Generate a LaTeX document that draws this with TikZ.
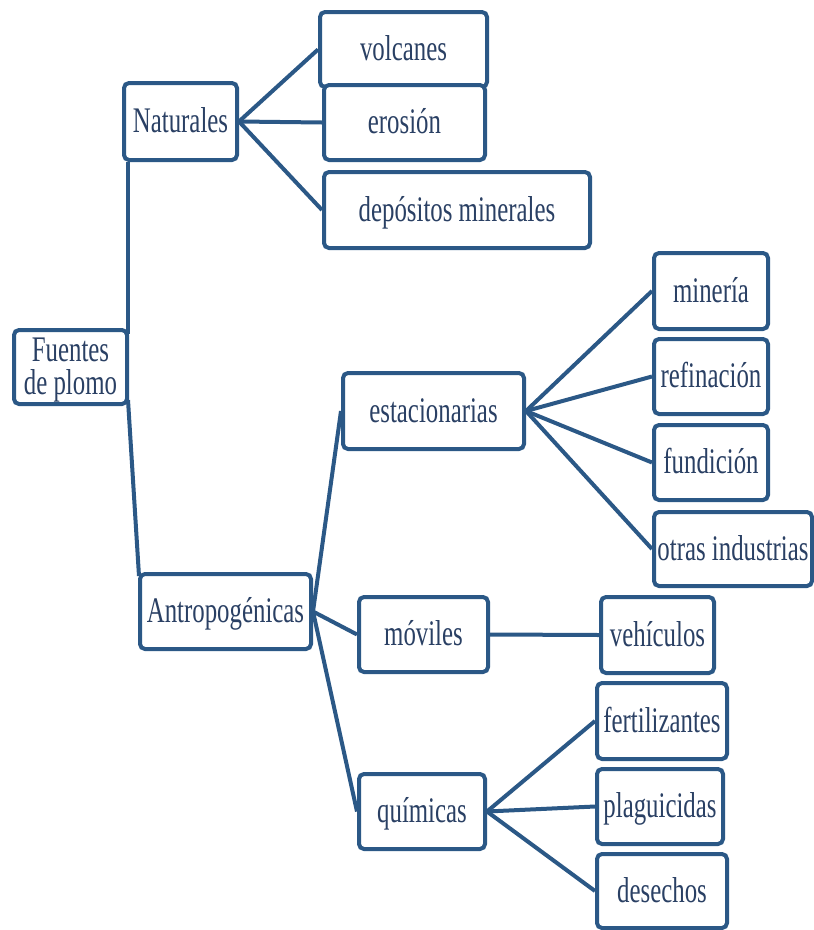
\documentclass[tikz,border=0pt]{standalone}
\usepackage{fontspec}
\setmainfont[FakeStretch=0.69]{Liberation Serif}
\definecolor{linec}{HTML}{2B5886}
\definecolor{textc}{HTML}{2A4064}
\begin{document}
\begin{tikzpicture}[x=1pt,y=-1pt,
  box/.style={draw=linec, line width=4pt, rounded corners=5pt, fill=white,
    inner sep=0pt, text=textc, text height=31pt, text depth=9pt,
    font=\fontsize{36pt}{38pt}\selectfont},
  txt/.style={inner sep=0pt, text=textc, font=\fontsize{36pt}{38pt}\selectfont},
  conn/.style={draw=linec, line width=4pt}]
\useasboundingbox (0,0) rectangle (814,930);
% boxes
\node[box, minimum width=113, minimum height=74] (fuentes) at (70.5,367) {};
\node[txt, anchor=base] (fuentesA) at (70.5,361) {Fuentes};
\node[txt, anchor=base] (fuentesB) at (70.5,394) {de plomo};
\node[box, minimum width=113, minimum height=77] (naturales) at (180.5,121.5) {Naturales};
\node[box, minimum width=167, minimum height=75] (volcanes) at (403.5,49.5) {volcanes};
\node[box, minimum width=161, minimum height=75] (erosion) at (404.5,122.5) {erosión};
\node[box, minimum width=266, minimum height=76] (depositos) at (457,210) {depósitos minerales};
\node[box, minimum width=114, minimum height=76] (mineria) at (711,291) {minería};
\node[box, minimum width=114, minimum height=75] (refinacion) at (711,376.5) {refinación};
\node[box, minimum width=114, minimum height=75] (fundicion) at (711,462.5) {fundición};
\node[box, minimum width=158, minimum height=74] (otras) at (733,549) {otras industrias};
\node[box, minimum width=181, minimum height=76] (estacionarias) at (433.5,411) {estacionarias};
\node[box, minimum width=171, minimum height=75] (antropo) at (225.5,611.5) {Antropogénicas};
\node[box, minimum width=129, minimum height=75] (moviles) at (423.5,634.5) {móviles};
\node[box, minimum width=113, minimum height=76] (vehiculos) at (657.5,635) {vehículos};
\node[box, minimum width=126, minimum height=75] (quimicas) at (422,811.5) {químicas};
\node[box, minimum width=130, minimum height=76] (fertilizantes) at (662,721) {fertilizantes};
\node[box, minimum width=126, minimum height=75] (plaguicidas) at (660,806.5) {plaguicidas};
\node[box, minimum width=130, minimum height=74] (desechos) at (662,891) {desechos};
% connectors
\coordinate (fTop) at ([xshift=-1pt,yshift=-6pt]fuentes.north east);
\coordinate (fBot) at ([xshift=-1pt,yshift=6pt]fuentes.south east);
\coordinate (aTop) at ([xshift=1pt,yshift=-4pt]antropo.north west);
\draw[conn] (fTop) -- (fTop |- naturales.south);
\draw[conn] (fBot) -- (aTop);
\draw[conn] (naturales.east) -- (volcanes.west);
\draw[conn] (naturales.east) -- (erosion.west);
\draw[conn] (naturales.east) -- (depositos.west);
\draw[conn] (antropo.east) -- (estacionarias.west);
\draw[conn] (antropo.east) -- (moviles.west);
\draw[conn] (antropo.east) -- (quimicas.west);
\draw[conn] (estacionarias.east) -- (mineria.west);
\draw[conn] (estacionarias.east) -- (refinacion.west);
\draw[conn] (estacionarias.east) -- (fundicion.west);
\draw[conn] (estacionarias.east) -- (otras.west);
\draw[conn] (moviles.east) -- (vehiculos.west);
\draw[conn] (quimicas.east) -- (fertilizantes.west);
\draw[conn] (quimicas.east) -- (plaguicidas.west);
\draw[conn] (quimicas.east) -- (desechos.west);
\end{tikzpicture}
\end{document}
